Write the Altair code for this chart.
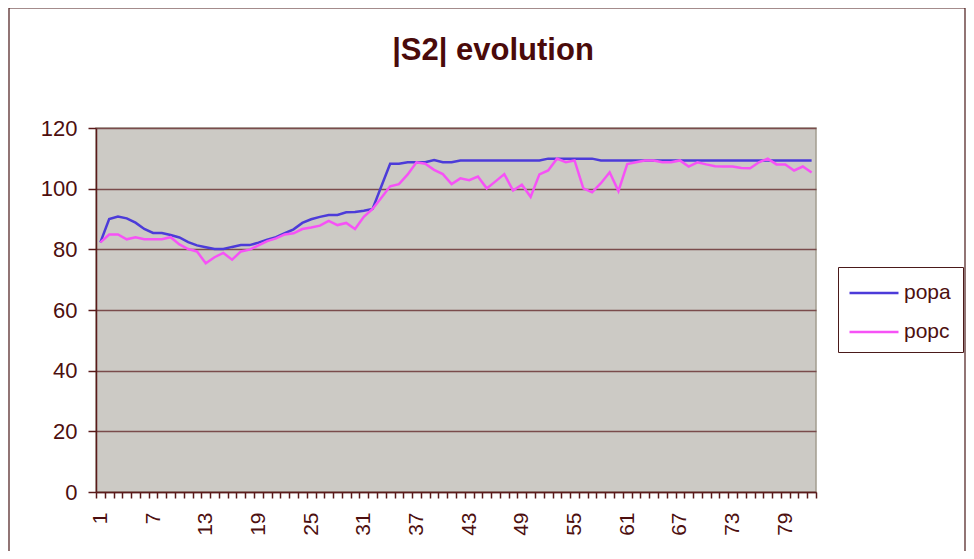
import altair as alt
import pandas as pd

popa = [82.3, 90.0, 90.8, 90.2, 88.8, 86.7, 85.4, 85.4, 84.7, 83.9,
        82.4, 81.3, 80.7, 80.1, 80.1, 80.8, 81.4, 81.4, 82.2, 83.2,
        84.0, 85.3, 86.6, 88.7, 89.9, 90.7, 91.3, 91.3, 92.2, 92.3,
        92.7, 93.3, 100.8, 108.2, 108.2, 108.7, 108.7, 108.7, 109.4, 108.7,
        108.7, 109.3, 109.3, 109.3, 109.3, 109.3, 109.3, 109.3, 109.3, 109.3,
        109.3, 109.9, 109.9, 109.9, 109.9, 109.9, 109.9, 109.3, 109.3, 109.3,
        109.3, 109.3, 109.3, 109.3, 109.3, 109.3, 109.3, 109.3, 109.3, 109.3,
        109.3, 109.3, 109.3, 109.3, 109.3, 109.3, 109.3, 109.3, 109.3, 109.3,
        109.3, 109.3]
popc = [82.3, 84.9, 84.9, 83.3, 84.0, 83.3, 83.3, 83.3, 84.0, 81.6,
        80.1, 79.3, 75.4, 77.4, 78.8, 76.6, 79.3, 79.9, 81.3, 82.7,
        83.6, 84.9, 85.3, 86.7, 87.2, 87.8, 89.4, 88.0, 88.7, 86.7,
        90.7, 93.3, 97.0, 100.8, 101.5, 104.7, 108.7, 108.2, 106.2, 104.8,
        101.5, 103.4, 102.8, 104.0, 100.1, 102.4, 104.8, 99.4, 101.3, 97.3,
        104.7, 106.0, 109.9, 108.7, 109.3, 100.1, 98.8, 101.8, 105.4, 99.2,
        108.1, 108.7, 109.3, 109.3, 108.7, 108.7, 109.3, 107.3, 108.7, 108.0,
        107.4, 107.3, 107.3, 106.8, 106.7, 108.7, 109.9, 108.0, 108.0, 106.0,
        107.3, 105.3]
steps = list(range(1, len(popa) + 1))
series_names = ["popa", "popc"]
series_colors = ["#4c3bd9", "#f652f6"]
y_ticks = [0, 20, 40, 60, 80, 100, 120]

df = pd.DataFrame({
    "t": steps * 2,
    "v": popa + popc,
    "s": ["popa"] * len(popa) + ["popc"] * len(popc),
})

n = len(steps)
x_vals = [i / 2 for i in range(1, 2 * n + 2)]  # 0.5, 1, 1.5, ... n+0.5

TXT = "#4d0f0f"
FONT = "Liberation Sans"

lines = alt.Chart(df).mark_line(strokeWidth=2.5, clip=False).encode(
    x=alt.X("t:Q",
            scale=alt.Scale(domain=[0.5, n + 0.5], nice=False, zero=False),
            axis=alt.Axis(values=x_vals, title=None, grid=False,
                          labelExpr="datum.value % 6 == 1 ? '' + datum.value : ''",
                          labelAngle=-90, labelFontSize=21, labelFont=FONT,
                          labelColor=TXT, labelPadding=14, labelOverlap=False,
                          labelFlush=False, tickSize=6, tickWidth=1.5,
                          tickColor="#5a1a1a", domainColor="#5a1a1a",
                          domainWidth=1.5,
                          tickOpacity={"condition": {"test": "datum.value % 1 == 0", "value": 0}, "value": 1})),
    y=alt.Y("v:Q",
            scale=alt.Scale(domain=[0, 120], nice=False),
            axis=alt.Axis(values=y_ticks, title=None, format="d",
                          labelFontSize=22, labelFont=FONT, labelColor=TXT,
                          labelPadding=11, tickSize=8, tickWidth=1.5,
                          tickColor="#5a1a1a", domainColor="#5a1a1a",
                          domainWidth=1.5, grid=True, gridColor="#7a4c4c",
                          gridWidth=1.5)),
    color=alt.Color("s:N",
                    scale=alt.Scale(domain=series_names, range=series_colors),
                    legend=alt.Legend(title=" ", titleOrient="bottom",
                                      titleFontSize=10, titlePadding=0,
                                      orient="none",
                                      legendX=742, legendY=139,
                                      symbolType="stroke", symbolSize=2400,
                                      symbolStrokeWidth=2.5, symbolOffset=10,
                                      rowPadding=3, padding=0,
                                      labelFontSize=21, labelFont=FONT,
                                      labelColor=TXT, labelOffset=4,
                                      labelExpr="datum.label + '\u00a0\u00a0\u200b'",
                                      strokeColor="#4a1a1a", fillColor="white")),
)

border = alt.Chart(pd.DataFrame({"a": [0]})).mark_rect(
    fillOpacity=0, stroke="#4a1a1a", strokeWidth=1.2, clip=False
).encode(x=alt.value(-87), x2=alt.value(869), y=alt.value(-120), y2=alt.value(460))

chart = alt.layer(border, lines).properties(
    width=720, height=364,
    autosize=alt.AutoSizeParams(type="none"),
    padding={"left": 88, "top": 120, "right": 150, "bottom": 59},
    title=alt.TitleParams("|S2| evolution", fontSize=31, font=FONT,
                          fontWeight="bold", color="#4a0a0a",
                          anchor="middle", dx=37, offset=-84,
                          baseline="alphabetic"),
).configure_view(fill="#cccac5", stroke="#a39d90", strokeWidth=1.5)

chart.save("out.html", embed_options={"renderer": "svg", "actions": False})
